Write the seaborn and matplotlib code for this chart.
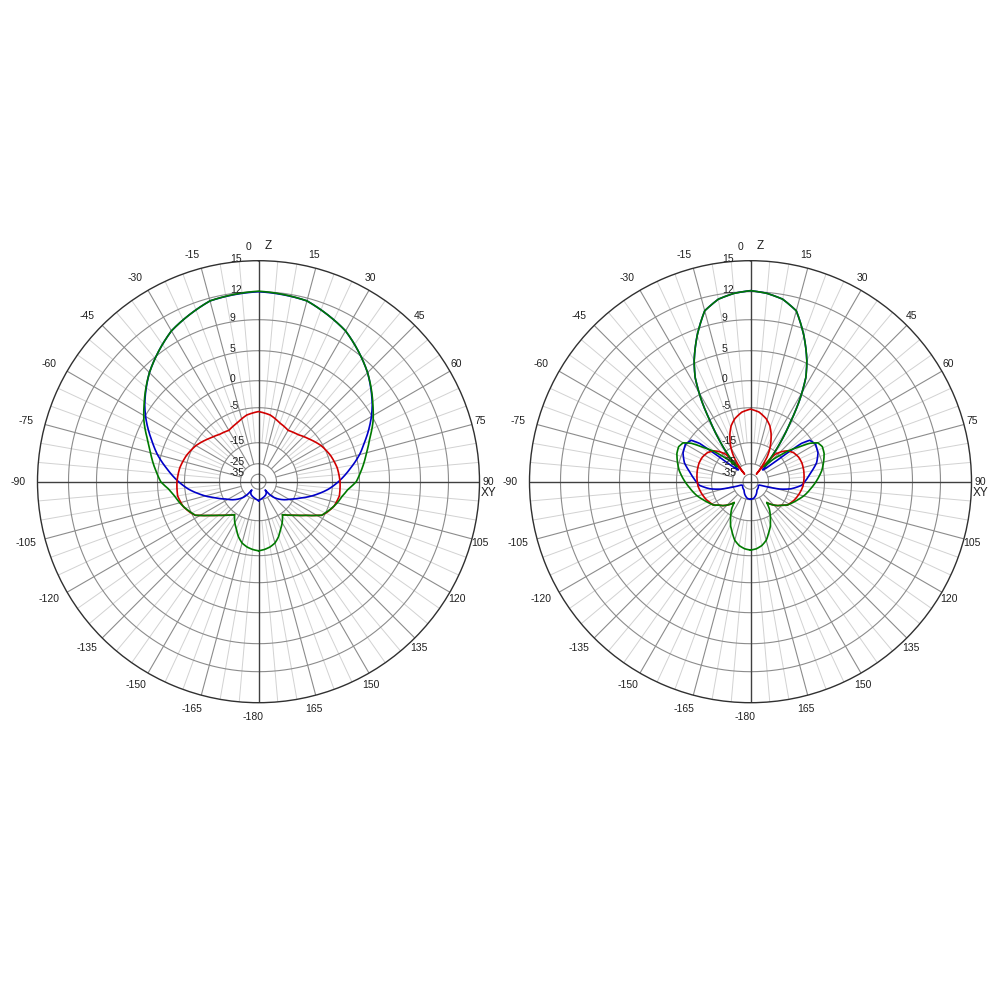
import numpy as np
import pandas as pd
import matplotlib
matplotlib.use("Agg")
import matplotlib.pyplot as plt
from matplotlib.transforms import offset_copy
import seaborn as sns

# ---------------- radial scale (log-like rings, dB) ----------------
ring_db = [15, 12, 9, 5, 0, -5, -15, -25, -35]
ring_px = [221, 190, 162, 131, 101, 74, 39, 18, 7.5]   # ring radii
center_db = -45

# ---------------- left pattern (0..180 deg, symmetric) ----------------
left_blue_ang = [0, 15, 30, 45, 56, 60, 69, 75, 82, 90, 96, 102, 111, 118, 125, 131, 136,
                 139, 141, 144, 150, 158, 167, 175, 180]
left_blue_db = [12.0, 11.7, 10.3, 8.0, 5.8, 4.9, 2.2, 0.6, -1.6, -3.9, -6.0, -9.0, -13.2,
                -16.0, -18.6, -21.0, -23.2, -25.5, -32.0, -29.5, -28.0, -27.0, -26.0, -25.0, -24.5]

left_red_ang = [0, 10, 20, 30, 40, 50, 60, 70, 80, 90, 100, 108, 114, 118, 120, 125, 130,
                135, 140, 144]
left_red_db = [-6.1, -6.8, -8.3, -9.2, -8.6, -7.2, -5.5, -4.5, -3.9, -3.6, -3.5, -4.0, -4.8,
               -5.7, -6.9, -9.4, -11.2, -12.6, -13.7, -14.5]

left_green_ang = [0, 15, 30, 45, 56, 62, 69, 75, 80, 85, 90, 95, 100, 105, 110, 114, 118,
                  120, 125, 130, 135, 140, 144, 150, 155, 160, 165, 170, 175, 180]
left_green_db = [12.05, 11.7, 10.3, 8.0, 5.9, 4.8, 3.0, 1.8, 1.0, 0.2, -0.6, -2.1, -3.0,
                 -3.6, -4.3, -4.9, -5.7, -6.9, -9.4, -11.2, -12.6, -13.7, -14.5, -12.6,
                 -11.2, -9.4, -8.0, -7.2, -6.7, -6.4]

# ---------------- right pattern (0..180 deg, symmetric) ----------------
right_blue_ang = [0, 5, 10, 15, 20, 25, 28, 31, 34, 37, 40, 43, 46, 49, 51, 52, 53, 55, 60,
                  67, 74, 81, 88, 94, 100, 104, 107, 110, 115, 125, 143, 157, 169, 180]
right_blue_db = [12.1, 11.9, 11.5, 10.6, 8.2, 5.3, 2.8, -1.0, -6.0, -11.5, -17.0, -22.0,
                 -26.0, -24.0, -19.0, -13.0, -8.0, -5.5, -4.8, -5.2, -6.5, -8.6, -10.2,
                 -11.5, -14.4, -19.0, -25.0, -33.0, -34.0, -33.0, -32.0, -28.6, -26.0, -25.4]

right_red_ang = [0, 7, 14, 19, 23, 27, 31, 34, 36, 38, 40, 42, 46, 50, 56, 63, 70, 78, 86,
                 95, 104, 113, 118, 122, 127, 131, 135, 139, 142]
right_red_db = [-5.4, -6.1, -7.6, -9.2, -11.1, -13.3, -16.0, -19.5, -23.5, -33.0, -22.0,
                -16.0, -13.8, -12.4, -11.3, -10.7, -10.5, -10.6, -10.8, -11.1, -11.8, -12.6,
                -13.2, -13.6, -15.0, -16.2, -17.8, -19.5, -21.0]

right_green_ang = [0, 5, 10, 15, 20, 25, 28, 31, 34, 37, 40, 42, 45, 48, 51, 54, 57, 60, 64,
                   69, 75, 81, 88, 96, 104, 111, 117, 122, 127, 131, 135, 139, 142, 145, 148,
                   152, 156, 160, 165, 170, 175, 180]
right_green_db = [12.1, 11.9, 11.5, 10.6, 8.2, 5.3, 2.8, -1.0, -6.0, -11.5, -17.5, -24.0,
                  -19.0, -15.0, -12.0, -9.5, -6.0, -4.3, -3.9, -4.1, -4.7, -5.5, -7.0, -8.7,
                  -10.2, -11.7, -12.8, -13.6, -15.0, -16.2, -17.8, -19.5, -21.0, -18.0,
                  -16.0, -14.0, -12.2, -10.8, -8.8, -7.6, -6.9, -6.6]

series_colors = {"blue": "#0000c8", "red": "#d00000", "green": "#007a00"}


def mirror(ang, val):
    ang = np.asarray(ang, float)
    val = np.asarray(val, float)
    return (np.concatenate([-ang[:0:-1], ang]),
            np.concatenate([val[:0:-1], val]))


rows = []
for plot, sets in (("left", [("blue", left_blue_ang, left_blue_db),
                             ("red", left_red_ang, left_red_db),
                             ("green", left_green_ang, left_green_db)]),
                   ("right", [("blue", right_blue_ang, right_blue_db),
                              ("red", right_red_ang, right_red_db),
                              ("green", right_green_ang, right_green_db)])):
    for name, a, v in sets:
        aa, vv = mirror(a, v)
        for i, (x, y) in enumerate(zip(aa, vv)):
            rows.append({"plot": plot, "series": name, "order": i,
                         "theta": np.deg2rad(x), "db": y})
df = pd.DataFrame(rows)

# ---------------- scale functions ----------------
_db_axis = np.array([center_db] + ring_db[::-1], float)
_fr_axis = np.array([0.0] + ring_px[::-1], float) / ring_px[0]


def fwd(v):
    return np.interp(np.asarray(v, float), _db_axis, _fr_axis)


def inv(v):
    return np.interp(np.asarray(v, float), _fr_axis, _db_axis)


sns.set_theme(style="white")
plt.rcParams["font.family"] = ["Liberation Sans", "DejaVu Sans"]

fig = plt.figure(figsize=(10, 10), dpi=100)
fig.patch.set_facecolor("white")

positions = {"left": [0.0375, 0.2973, 0.442, 0.442],
             "right": [0.5295, 0.2973, 0.442, 0.442]}

for plot in ("left", "right"):
    ax = fig.add_axes(positions[plot], projection="polar")
    ax.set_theta_zero_location("N")
    ax.set_theta_direction(-1)
    ax.set_rscale("function", functions=(fwd, inv))
    ax.set_rlim(center_db, 15)
    ax.grid(False)
    ax.set_xticks([])
    ax.set_yticks([])
    ax.set_facecolor("white")
    ax.spines["polar"].set_color("#303030")
    ax.spines["polar"].set_linewidth(1.0)

    # rings
    tc = np.linspace(0, 2 * np.pi, 721)
    for d in ring_db[1:]:
        ax.plot(tc, np.full_like(tc, d), color="#8c8c8c", lw=0.8, zorder=1)
    # spokes
    for a in range(0, 360, 5):
        t = np.deg2rad(a)
        if a % 90 == 0:
            ax.plot([t, t], [center_db, 15], color="#404040", lw=1.0, zorder=1.5)
        elif a % 15 == 0:
            ax.plot([t, t], [-25, 15], color="#8c8c8c", lw=0.8, zorder=1)
        else:
            ax.plot([t, t], [-15, 15], color="#d2d2d2", lw=0.7, zorder=0.9)

    n_before = len(ax.lines)
    sub = df[df["plot"] == plot]
    sns.lineplot(data=sub, x="theta", y="db", hue="series",
                 hue_order=["blue", "red", "green"], palette=series_colors,
                 units="series", estimator=None, sort=False, legend=False,
                 lw=1.2, ax=ax, zorder=3)
    # let the polar projection draw the segments as smooth arcs
    for ln in ax.lines[n_before:]:
        ln.get_path()._interpolation_steps = 24

    ax.set_xlabel("")
    ax.set_ylabel("")
    ax.set_rlim(center_db, 15)
    ax.set_xticks([])
    ax.set_yticks([])
    ax.grid(False)

    # angle labels
    for a in range(-165, 181, 15):
        lab = "-180" if a == 180 else str(a)
        t = np.deg2rad(a)
        dx = 14 * np.sin(t) - 5.5
        dy = 14 * np.cos(t)
        if a == 0:
            dx = -9.5
        tr = offset_copy(ax.transData, x=dx, y=dy, units="dots")
        ax.text(t, 15, lab, transform=tr, ha="center", va="center",
                fontsize=7.5, color="#202020", clip_on=False)
    ax.text(0, 15, "Z", transform=offset_copy(ax.transData, x=9.8, y=14.7, units="dots"),
            ha="center", va="center", fontsize=8.5, color="#202020", clip_on=False)
    ax.text(np.pi / 2, 15, "XY",
            transform=offset_copy(ax.transData, x=9.5, y=-11.8, units="dots"),
            ha="center", va="center", fontsize=8.5, color="#202020", clip_on=False)

    # radial labels
    for d in ring_db:
        tr = offset_copy(ax.transData, x=-28.5, y=1.5, units="dots")
        ax.text(0, d, str(d), transform=tr, ha="left", va="center",
                fontsize=7.5, color="#202020", clip_on=False)

fig.savefig("out.png", dpi=100, facecolor="white")
